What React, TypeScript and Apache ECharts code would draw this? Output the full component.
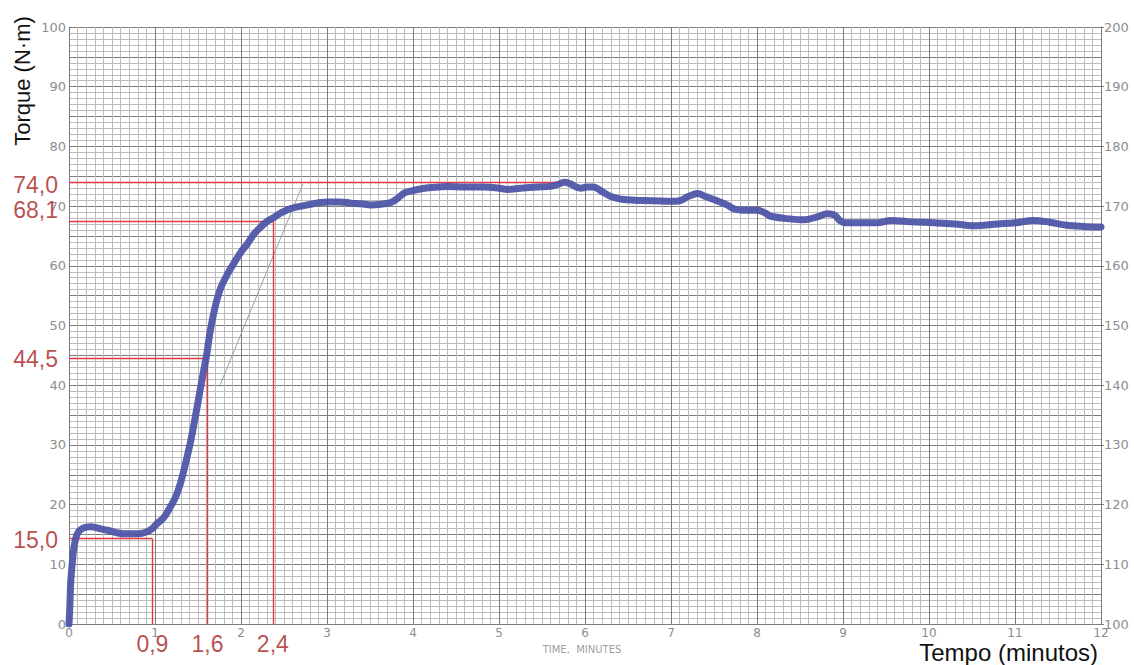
import React, { useEffect, useRef } from "react";
import * as echarts from "echarts";

// Curve (time in minutes, torque in N·m)
const timeMin = [
  0.0, 0.01, 0.02, 0.04, 0.06, 0.1, 0.17, 0.25, 0.35, 0.45, 0.55, 0.65, 0.8, 0.9, 0.97,
  1.03, 1.1, 1.15, 1.24, 1.3, 1.36, 1.42, 1.47, 1.52, 1.56, 1.6, 1.63, 1.67, 1.72, 1.77,
  1.85, 1.92, 2.0, 2.08, 2.15, 2.23, 2.3, 2.37, 2.47, 2.58, 2.7, 2.81, 2.92, 3.01, 3.15,
  3.28, 3.4, 3.51, 3.62, 3.74, 3.82, 3.9, 4.0, 4.1, 4.21, 4.4, 4.6, 4.83, 5.0, 5.1, 5.25,
  5.45, 5.6, 5.7, 5.76, 5.82, 5.9, 5.95, 6.02, 6.1, 6.18, 6.3, 6.45, 6.57, 6.8, 7.0, 7.1,
  7.2, 7.31, 7.4, 7.55, 7.65, 7.74, 7.9, 8.01, 8.1, 8.16, 8.35, 8.55, 8.7, 8.82, 8.9, 8.97,
  9.02, 9.2, 9.4, 9.56, 9.75, 10.06, 10.3, 10.52, 10.8, 11.0, 11.22, 11.4, 11.6, 11.8, 12.0,
];
const torqueNm = [
  0, 3, 7, 10.5, 13, 15.2, 16.1, 16.3, 16.0, 15.7, 15.3, 15.1, 15.1, 15.4, 16.0,
  16.9, 17.8, 18.9, 21.3, 23.8, 27.2, 31.0, 34.8, 38.8, 42.0, 45.0, 48.0, 51.2, 54.3, 56.5,
  58.8, 60.5, 62.3, 63.8, 65.3, 66.5, 67.4, 68.0, 68.9, 69.6, 70.0, 70.3, 70.6, 70.7, 70.7,
  70.5, 70.4, 70.2, 70.3, 70.6, 71.3, 72.2, 72.6, 72.9, 73.1, 73.3, 73.2, 73.2, 73.0, 72.8, 73.0,
  73.2, 73.3, 73.7, 74.0, 73.8, 73.2, 73.0, 73.2, 73.2, 72.6, 71.6, 71.1, 71.0, 70.9, 70.8, 70.9,
  71.6, 72.1, 71.6, 70.8, 70.2, 69.5, 69.3, 69.3, 68.8, 68.3, 67.9, 67.7, 68.2, 68.7, 68.5, 67.5,
  67.2, 67.2, 67.2, 67.6, 67.4, 67.2, 67.0, 66.7, 67.0, 67.2, 67.6, 67.3, 66.8, 66.6, 66.5,
];

// Red reading lines as drawn on the chart
const levelY = [74.0, 67.5, 44.5, 14.3];
const levelEndX = [5.76, 2.37, 1.61, 0.97];
const levelLabels = ["74,0", "68,1", "44,5", "15,0"];
const dropX = [0.97, 1.61, 2.37];
const dropTopY = [14.3, 44.5, 67.5];
const dropLabels = ["0,9", "1,6", "2,4"];

// Pencil tangent line
const tangentX = [1.75, 2.45, 2.72];
const tangentY = [39.8, 64.3, 73.7];

// Axes
const xMin = 0, xMax = 12, xStep = 1;
const leftMin = 0, leftMax = 100, leftStep = 5;
const rightMin = 100, rightMax = 200, rightStep = 10;

const GRAY = "#8e8e8e";
const MAJOR = "#7c7c7c";
const MINOR = "#bdbdbd";
const RED_LINE = "#e03a40";
const RED_TEXT = "#a81f24";
const TICK_FONT = "DejaVu Sans";
const TEXT_FONT = "Liberation Sans";

export default function App() {
  const ref = useRef<HTMLDivElement>(null);

  useEffect(() => {
    if (!ref.current) return;
    const chart = echarts.init(ref.current, undefined, { renderer: "svg" });

    const curve = timeMin.map((t, i) => [t, torqueNm[i]]);

    const markData: any[] = [];
    levelY.forEach((v, i) => {
      markData.push([{ coord: [0, v] }, { coord: [levelEndX[i], v] }]);
    });
    dropX.forEach((x, i) => {
      markData.push([{ coord: [x, 0] }, { coord: [x, dropTopY[i]] }]);
    });

    const labelOffsets = [[0, 3], [0, -11], [0, 1], [0, 1]];
    const labelData: any[] = [];
    levelY.forEach((v, i) => {
      labelData.push({
        value: [0, v],
        label: {
          show: true,
          formatter: levelLabels[i],
          position: "left",
          distance: 11,
          offset: labelOffsets[i],
        },
      });
    });
    dropX.forEach((x, i) => {
      labelData.push({
        value: [x, 0],
        label: {
          show: true,
          formatter: dropLabels[i],
          position: "bottom",
          distance: 8,
        },
      });
    });

    const option: any = {
      animation: false,
      backgroundColor: "#ffffff",
      grid: { left: 69, right: 33, top: 27, bottom: 41, containLabel: false },
      xAxis: {
        type: "value",
        min: xMin,
        max: xMax,
        interval: xStep,
        axisLine: { show: true, onZero: false, lineStyle: { color: MAJOR, width: 1 } },
        axisTick: { show: false },
        axisLabel: { color: GRAY, fontSize: 12, fontFamily: TICK_FONT, margin: 3 },
        splitLine: { show: true, lineStyle: { color: MAJOR, width: 1 } },
        minorTick: { show: false, splitNumber: 10 },
        minorSplitLine: { show: true, lineStyle: { color: MINOR, width: 1 } },
      },
      yAxis: [
        {
          type: "value",
          min: leftMin,
          max: leftMax,
          interval: leftStep,
          axisLine: { show: true, lineStyle: { color: MAJOR, width: 1 } },
          axisTick: { show: false },
          axisLabel: {
            color: GRAY,
            fontSize: 13,
            fontFamily: TICK_FONT,
            margin: 3,
            formatter: (v: number) => (v % 10 === 0 ? String(v) : ""),
          },
          splitLine: { show: true, lineStyle: { color: MAJOR, width: 1 } },
          minorTick: { show: false, splitNumber: 5 },
          minorSplitLine: { show: true, lineStyle: { color: MINOR, width: 1 } },
        },
        {
          type: "value",
          position: "right",
          min: rightMin,
          max: rightMax,
          interval: rightStep,
          axisLine: { show: true, lineStyle: { color: MAJOR, width: 1 } },
          axisTick: { show: true, length: 3, lineStyle: { color: MAJOR } },
          axisLabel: { color: GRAY, fontSize: 13, fontFamily: TICK_FONT, margin: 3 },
          splitLine: { show: false },
        },
      ],
      series: [
        {
          type: "line",
          data: tangentX.map((x, i) => [x, tangentY[i]]),
          showSymbol: false,
          silent: true,
          lineStyle: { color: "#a0a0a0", width: 1 },
          z: 3,
        },
        {
          type: "line",
          data: curve,
          showSymbol: false,
          smooth: 0.35,
          silent: true,
          lineStyle: { color: "#4a53a6", width: 7, opacity: 0.92, cap: "round", join: "round" },
          z: 5,
        },
        {
          type: "line",
          data: [],
          silent: true,
          z: 6,
          markLine: {
            silent: true,
            symbol: ["none", "none"],
            label: { show: false },
            lineStyle: { color: RED_LINE, width: 1.4, type: "solid" },
            data: markData,
          },
        },
        {
          type: "scatter",
          data: labelData,
          symbolSize: 0,
          silent: true,
          z: 7,
          label: {
            color: RED_TEXT,
            fontSize: 23,
            fontFamily: TEXT_FONT,
          },
        },
      ],
      graphic: [
        {
          type: "text",
          x: 22,
          y: 81,
          rotation: Math.PI / 2,
          style: {
            text: "Torque (N·m)",
            font: `22px "${TEXT_FONT}"`,
            fill: "#111111",
            textAlign: "center",
            textVerticalAlign: "middle",
          },
        },
        {
          type: "text",
          x: 1098,
          y: 652,
          style: {
            text: "Tempo (minutos)",
            font: `24px "${TEXT_FONT}"`,
            fill: "#111111",
            textAlign: "right",
            textVerticalAlign: "middle",
          },
        },
        {
          type: "text",
          x: 582,
          y: 649,
          style: {
            text: "TIME,  MINUTES",
            font: `10px "${TICK_FONT}"`,
            fill: "#a0a0a0",
            textAlign: "center",
            textVerticalAlign: "middle",
          },
        },
      ],
    };

    chart.setOption(option);
    return () => chart.dispose();
  }, []);

  return (
    <div
      ref={ref}
      style={{ position: "fixed", left: 0, top: 0, width: 1134, height: 665, background: "#fff" }}
    />
  );
}
